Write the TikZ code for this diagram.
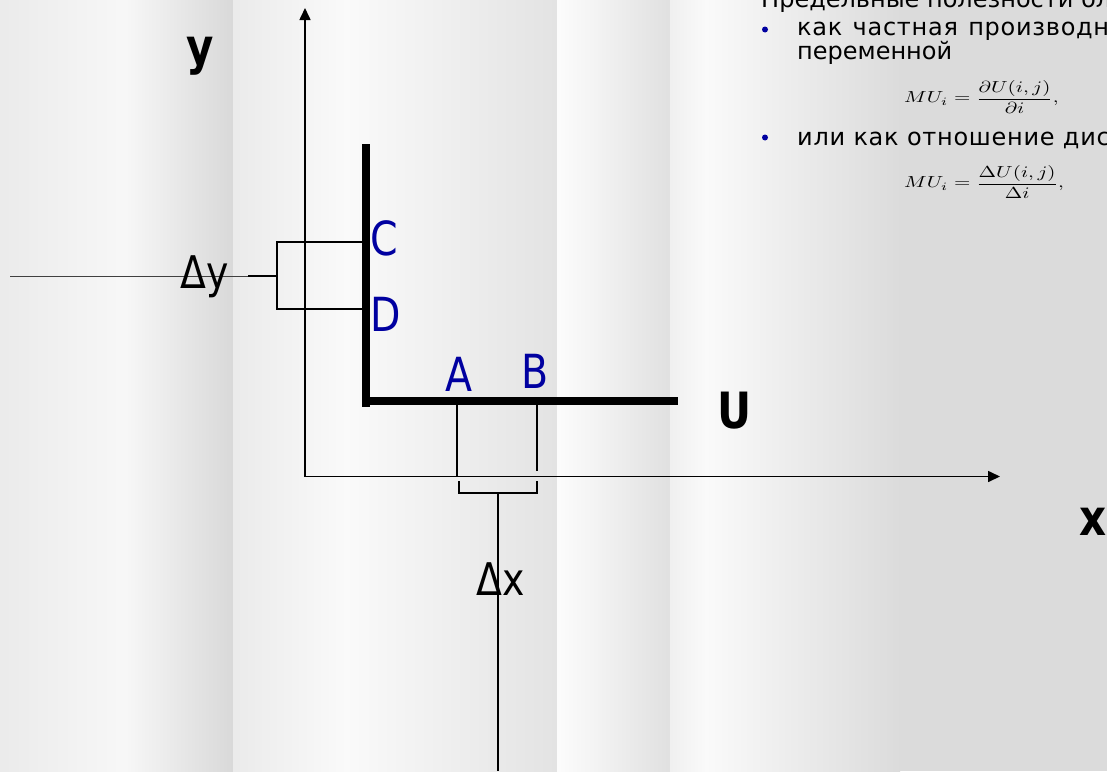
\documentclass[tikz,border=0pt]{standalone}
\usepackage{fontspec}
\usepackage{graphicx}
\setmainfont{DejaVu Sans}
\newfontfamily\bodyfont{DejaVu Sans}
\newfontfamily\bodyfontA{DejaVu Sans}[LetterSpace=3]
\newfontfamily\bodyfontB{DejaVu Sans}[LetterSpace=3]
\usetikzlibrary{arrows.meta}
\definecolor{lblue}{RGB}{0,0,160}
\newcommand\sqz[1]{\scalebox{0.84}[1]{#1}}
\begin{document}
\begin{tikzpicture}[x=1pt,y=-1pt,
  axisline/.style={line width=1.6pt,-{Triangle[length=12pt,width=11pt]}},
  heavyline/.style={line width=8pt},
  brk/.style={line width=1.7pt},
  thinline/.style={line width=0.8pt,black!75},
  biglbl/.style={inner sep=0pt,anchor=base west,font=\fontsize{50}{54}\selectfont\bfseries},
  ptlbl/.style={inner sep=0pt,anchor=base west,text=lblue,font=\fontsize{47}{50}\selectfont},
  dlbl/.style={inner sep=0pt,anchor=base west,font=\fontsize{45}{50}\selectfont},
  txt/.style={inner sep=0pt,anchor=base west,font=\fontsize{24}{26}\selectfont\bodyfont},
  frm/.style={inner sep=0pt,anchor=west},
  bul/.style={fill=lblue,draw=none}]
\useasboundingbox (0,0) rectangle (1107,771);
\clip (0,0) rectangle (1107,771);
% background stripes
\shade[left color=black!8,right color=black!3] (0,0) rectangle (124,771);
\shade[left color=black!3,right color=black!15] (124,0) rectangle (233,771);
\shade[left color=black!8,right color=black!2] (233,0) rectangle (346,771);
\shade[left color=black!2,right color=black!11] (346,0) rectangle (557,771);
\shade[left color=black!1,right color=black!12] (557,0) rectangle (670,771);
\shade[left color=black!6,right color=black!2] (670,0) rectangle (706,771);
\shade[left color=black!2,right color=black!14] (706,0) rectangle (900,771);
\fill[black!14] (900,0) rectangle (1107,771);

% coordinates
\coordinate (O) at (305,476.5);
\coordinate (Ytip) at (305,8);
\coordinate (Xtip) at (1000,476.5);
\coordinate (Ltop) at (366,144);
\coordinate (Lcorner) at (366,407);
\coordinate (Hleft) at (362,401);
\coordinate (Hright) at (678,401);
\coordinate (Cpt) at (363,242);
\coordinate (Dpt) at (363,309);
\coordinate (Cb) at (277,242);
\coordinate (Db) at (277,309);
\coordinate (Ymid) at (277,276);
\coordinate (Ystub) at (248,276);
\coordinate (Yfar) at (10,276);
\coordinate (Atop) at (457,405);
\coordinate (Abot) at (457,476);
\coordinate (Btop) at (537,397);
\coordinate (Bbot) at (537,471);
\coordinate (xa1) at (459,481);
\coordinate (xa2) at (459,493);
\coordinate (xb1) at (537,481);
\coordinate (xb2) at (537,493);
\coordinate (xm) at (498,493);
\coordinate (xfar) at (498,771);

% axes
\draw[axisline] (O) -- (Ytip);
\draw[axisline] (O) -- (Xtip);
% U curve
\draw[heavyline] (Ltop) -- (Lcorner);
\draw[heavyline] (Hleft) -- (Hright);
% delta y bracket
\draw[brk] (Cpt) -- (Cb) -- (Db) -- (Dpt);
\draw[line width=2.6pt] (Ymid) -- (Ystub);
\draw[thinline] (Ystub) -- (Yfar);
% delta x bracket
\draw[brk] (Atop) -- (Abot);
\draw[brk] (Btop) -- (Bbot);
\draw[brk] (xa1) -- (xa2) -- (xb2) -- (xb1);
\draw[line width=1.3pt] (xm) -- (xfar);

% labels
\node[biglbl] (ylab) at (186,64) {\sqz{y}};
\node[biglbl] (ulab) at (717,428) {\sqz{U}};
\node[biglbl] (xlab) at (1079,535) {\sqz{x}};
\node[ptlbl] (clab) at (370,255) {\sqz{C}};
\node[ptlbl] (dlab) at (370,331) {\sqz{D}};
\node[ptlbl] (alab) at (445,391) {\sqz{A}};
\node[ptlbl] (blab) at (521,388) {\sqz{B}};
\node[dlbl] (dylab) at (180,288) {\sqz{Δy}};
\node[dlbl] (dxlab) at (476,595) {\sqz{Δx}};

% text block
\node[txt] (t0) at (761,7.5) {Предельные полезности бл};
\fill[bul] (765,29.5) circle (3);
\node[txt,font=\fontsize{24}{26}\selectfont\bodyfontA] (t1) at (797,35.5) {как\hspace{2pt} частная\hspace{2pt} производна};
\node[txt] (t2) at (797,59.5) {переменной};
\node[frm] (f1) at (904,97) {\scalebox{2.1}[1.6]{$\displaystyle MU_i=\frac{\partial U(i,j)}{\partial i},$}};
\fill[bul] (765,137.5) circle (3);
\node[txt,font=\fontsize{24}{26}\selectfont\bodyfontB] (t3) at (797,145) {или как отношение дис};
\node[frm] (f2) at (904,182) {\scalebox{2.1}[1.6]{$\displaystyle MU_i=\frac{\Delta U(i,j)}{\Delta i},$}};
\end{tikzpicture}
\end{document}
